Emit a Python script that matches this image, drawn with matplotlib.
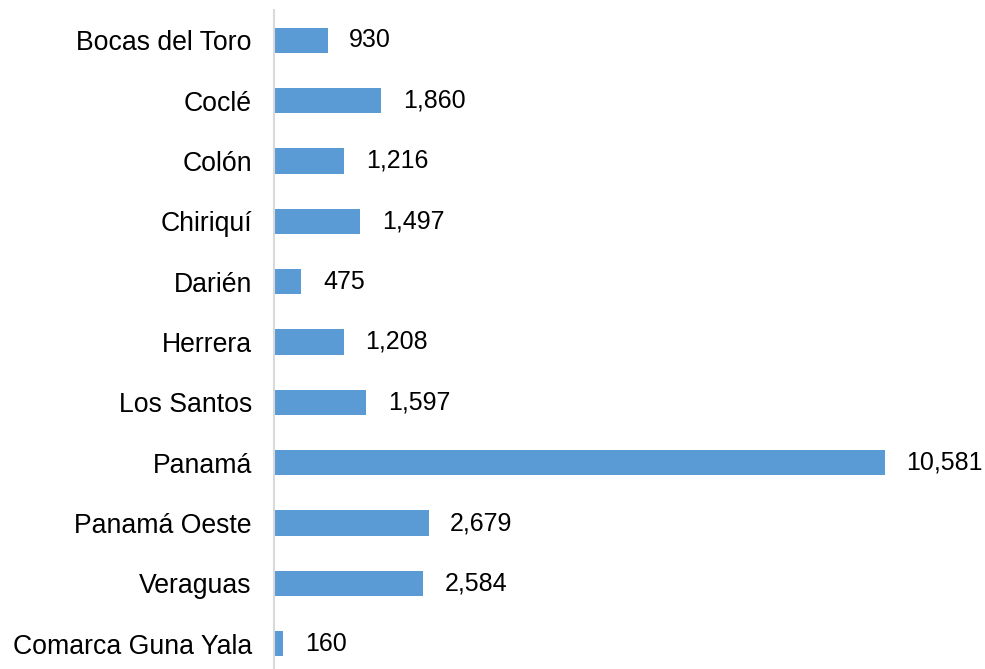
import matplotlib
matplotlib.use("Agg")
import matplotlib.pyplot as plt

categories = ["Bocas del Toro", "Coclé", "Colón", "Chiriquí", "Darién", "Herrera",
              "Los Santos", "Panamá", "Panamá Oeste", "Veraguas", "Comarca Guna Yala"]
values = [930, 1860, 1216, 1497, 475, 1208, 1597, 10581, 2679, 2584, 160]

plt.rcParams['font.family'] = ['Liberation Sans', 'DejaVu Sans']

fig = plt.figure(figsize=(9.85, 6.69), dpi=100)
ax = fig.add_axes([274/985, -5/669, 711/985, 664/669])

pos = list(range(len(categories)))
ax.barh(pos, values, height=0.42, color="#5b9bd5")
ax.set_ylim(len(categories) - 0.5, -0.5)
ax.set_xlim(0, 12320)

for p, v in zip(pos, values):
    ax.annotate(f"{v:,}", xy=(v, p), xytext=(15.5, 0), textcoords="offset points",
                va="center", ha="left", fontsize=18, color="#000000")

ax.set_yticks(pos)
ax.set_yticklabels(categories, fontsize=19.2)
ax.tick_params(axis="y", length=0, pad=16)
ax.set_xticks([])
for s in ["top", "right", "bottom"]:
    ax.spines[s].set_visible(False)
ax.spines["left"].set_color("#d9d9d9")
ax.spines["left"].set_linewidth(1.5)

fig.savefig("out.png", dpi=100)
